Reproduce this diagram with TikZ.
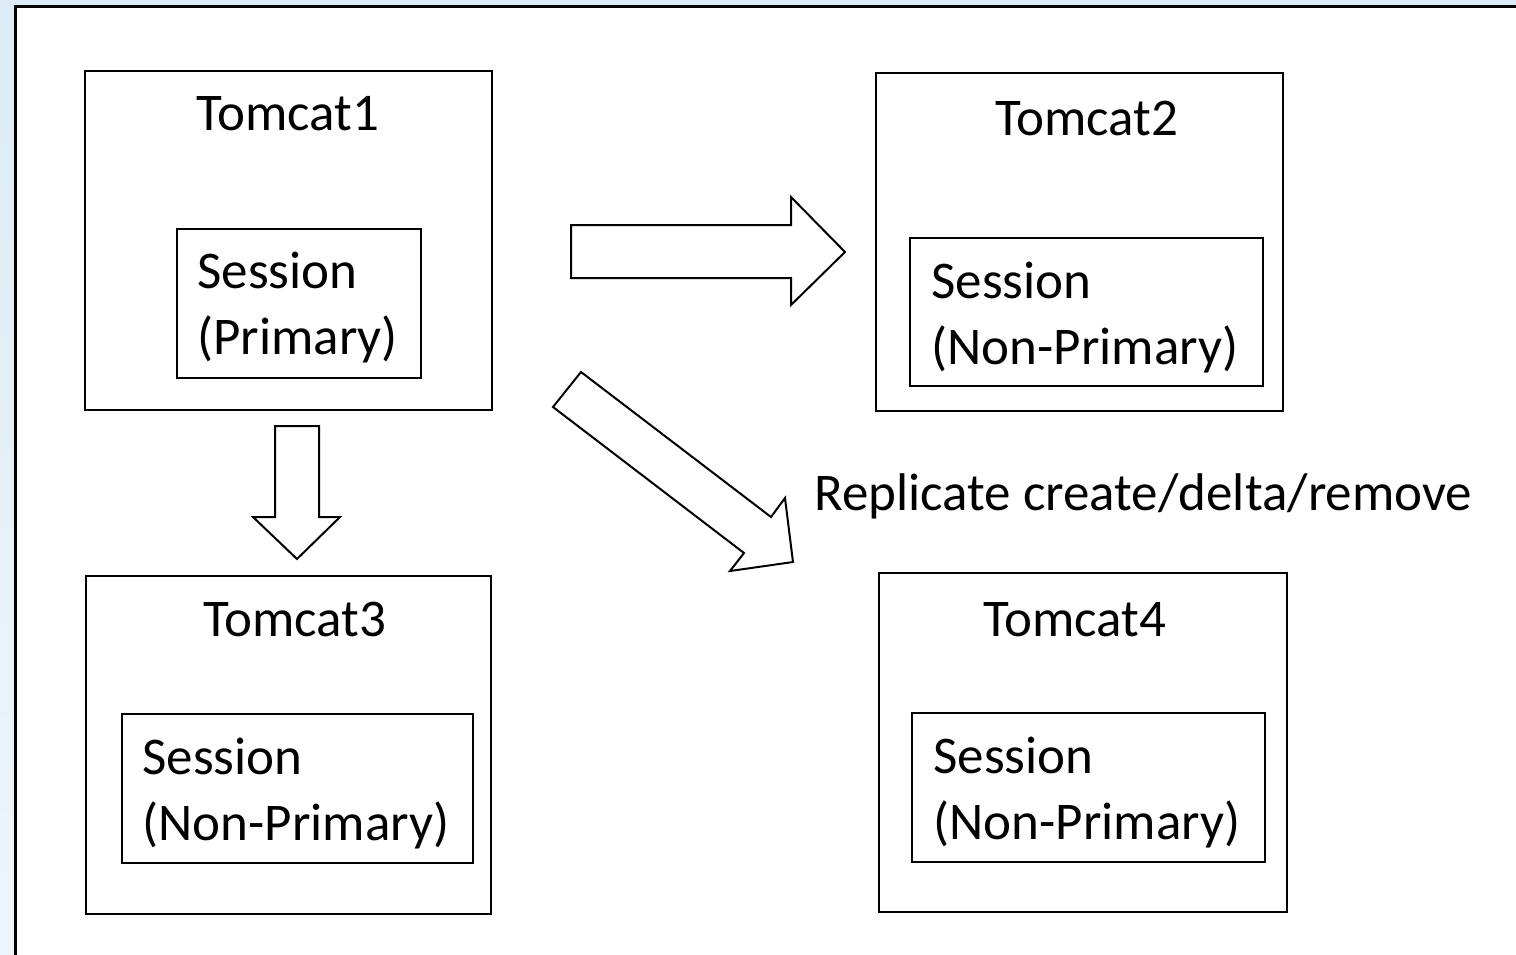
\documentclass[tikz,border=0pt]{standalone}
\usepackage{fontspec}
\setmainfont{Carlito}
\begin{document}
\begin{tikzpicture}[x=0.5pt,y=-0.5pt,
  box/.style={draw=black,line width=1pt,fill=white},
  blockarrow/.style={draw=black,line width=1pt,fill=white,line join=miter},
  lbl/.style={inner sep=0pt,anchor=base west,font=\fontsize{26.5}{33}\selectfont},
  ttl/.style={inner sep=0pt,anchor=base,font=\fontsize{26.5}{33}\selectfont}]
\useasboundingbox (0,0) rectangle (1516,954);
\definecolor{bgblue}{HTML}{DCEBF5}
\definecolor{bgblue2}{HTML}{EEF5FA}
\shade[top color=bgblue, bottom color=bgblue2] (0,0) rectangle (1516,954);
\draw[line width=1.5pt,fill=white] (15,6) rectangle (1540,980);
% boxes
\draw[box] (85,71) rectangle (492,410);
\draw[box] (177,229) rectangle (421,378);
\draw[box] (876,73) rectangle (1283,411);
\draw[box] (910,238) rectangle (1263,386);
\draw[box] (86,576) rectangle (491,914);
\draw[box] (122,714) rectangle (473,863);
\draw[box] (879,573) rectangle (1287,912);
\draw[box] (912,713) rectangle (1265,862);
% titles
\node[ttl] (t1) at (288,130) {Tomcat1};
\node[ttl] (t2) at (1087,135) {Tomcat2};
\node[ttl] (t3) at (295,636) {Tomcat3};
\node[ttl] (t4) at (1075,636) {Tomcat4};
% sessions
\node[lbl] (s1a) at (197,288) {Session};
\node[lbl] (s1b) at (197,354) {(Primary)};
\node[lbl] (s2a) at (931,298) {Session};
\node[lbl] (s2b) at (931,364) {(Non-Primary)};
\node[lbl] (s3a) at (142,774) {Session};
\node[lbl] (s3b) at (142,840) {(Non-Primary)};
\node[lbl] (s4a) at (933,773) {Session};
\node[lbl] (s4b) at (933,839) {(Non-Primary)};
\node[lbl] (rep) at (814,510) {Replicate create/delta/remove};
% block arrows
\draw[blockarrow] (571,225) -- (791,225) -- (791,197) -- (845,252) -- (791,305) -- (791,278) -- (571,278) -- cycle;
\draw[blockarrow] (275,426) -- (319,426) -- (319,517) -- (340,517) -- (297,559) -- (253,517) -- (275,517) -- cycle;
\draw[blockarrow] (581,372) -- (771,517) -- (785,498) -- (793,562) -- (730,571) -- (744,553) -- (553,407) -- cycle;
\end{tikzpicture}
\end{document}
